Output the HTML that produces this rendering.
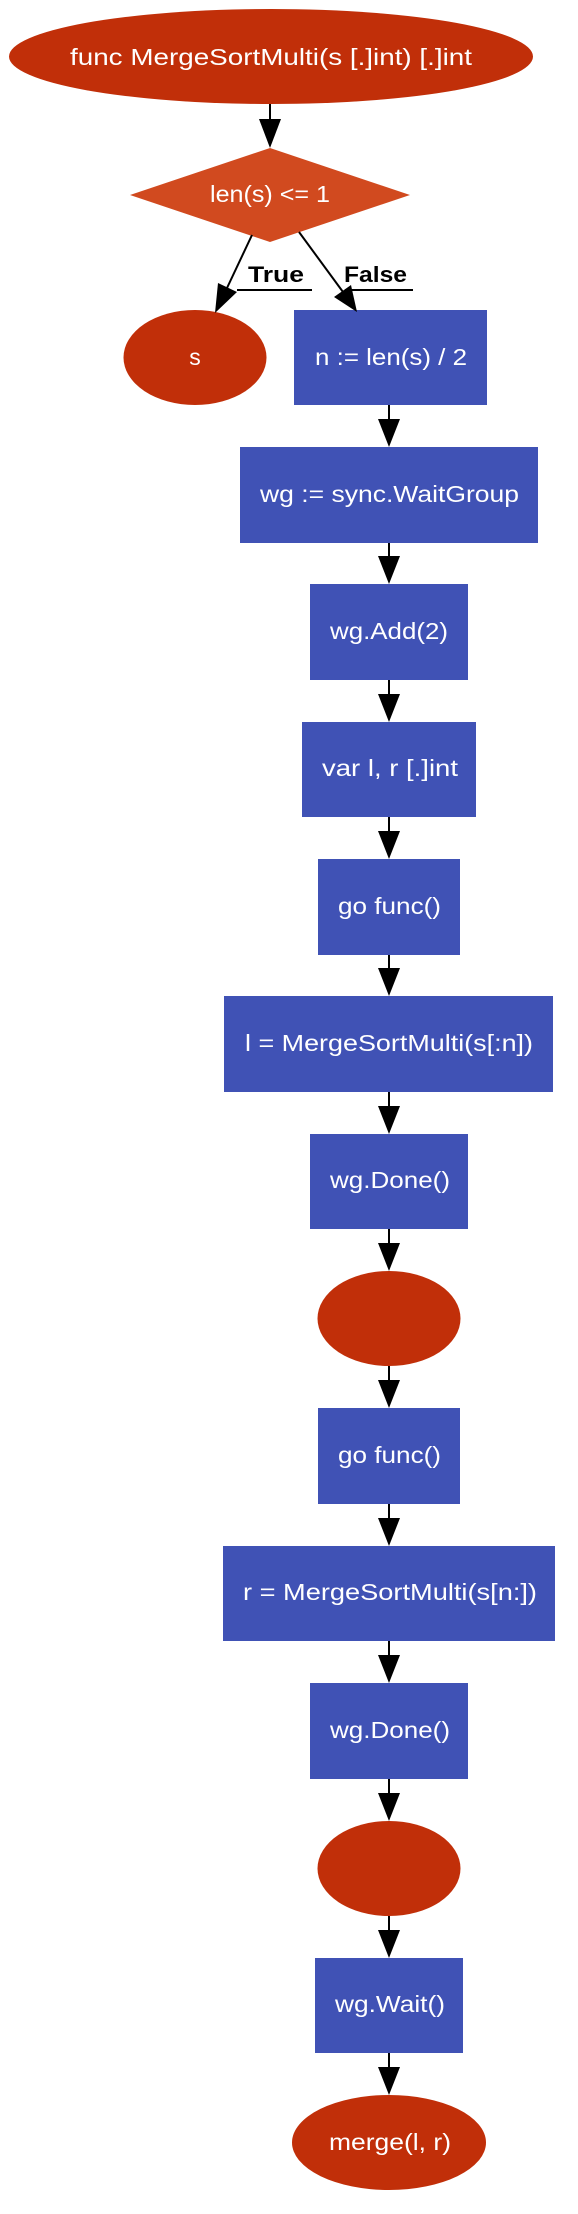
<!DOCTYPE html>
<html><head><meta charset="utf-8"><style>html,body{margin:0;padding:0;background:#fff}svg{display:block}</style></head>
<body>
<svg width="578" height="2214" viewBox="0 0 578 2214" xmlns="http://www.w3.org/2000/svg" font-family="'Liberation Sans', sans-serif">
<defs>
<marker id="a" markerWidth="10" markerHeight="10" viewBox="0 0 10 10" refX="10" refY="5" markerUnits="userSpaceOnUse" orient="auto" style="overflow:visible">
</marker>
</defs>
<g fill="#c12f09">
<ellipse cx="271" cy="56.5" rx="262" ry="47.5"/>
<ellipse cx="195" cy="357.5" rx="71.5" ry="47.5"/>
<ellipse cx="389" cy="1318.5" rx="71.5" ry="47.5"/>
<ellipse cx="389" cy="1868.5" rx="71.5" ry="47.5"/>
<ellipse cx="389" cy="2142.5" rx="97" ry="47.5"/>
</g>
<polygon points="130,195 270,148 410,195 270,242" fill="#d14a1f"/>
<g fill="#4052b5">
<rect x="294" y="310" width="193" height="95"/>
<rect x="240" y="447" width="298" height="96"/>
<rect x="310" y="584" width="158" height="96"/>
<rect x="302" y="722" width="174" height="95"/>
<rect x="318" y="859" width="142" height="96"/>
<rect x="224" y="996" width="329" height="96"/>
<rect x="310" y="1134" width="158" height="95"/>
<rect x="318" y="1408" width="142" height="96"/>
<rect x="223" y="1546" width="332" height="95"/>
<rect x="310" y="1683" width="158" height="96"/>
<rect x="315" y="1958" width="148" height="95"/>
</g>
<g stroke="#000" stroke-width="2" fill="none">
<line x1="270" y1="104" x2="270" y2="120"/>
<line x1="252" y1="235" x2="227" y2="288"/>
<line x1="299" y1="232" x2="343" y2="292"/>
<line x1="237" y1="290" x2="312" y2="290"/>
<line x1="345" y1="290" x2="413" y2="290"/>
<line x1="389" y1="405" x2="389" y2="420"/>
<line x1="389" y1="543" x2="389" y2="557"/>
<line x1="389" y1="680" x2="389" y2="695"/>
<line x1="389" y1="817" x2="389" y2="832"/>
<line x1="389" y1="955" x2="389" y2="969"/>
<line x1="389" y1="1092" x2="389" y2="1107"/>
<line x1="389" y1="1229" x2="389" y2="1244"/>
<line x1="389" y1="1366" x2="389" y2="1381"/>
<line x1="389" y1="1504" x2="389" y2="1519"/>
<line x1="389" y1="1641" x2="389" y2="1656"/>
<line x1="389" y1="1779" x2="389" y2="1794"/>
<line x1="389" y1="1916" x2="389" y2="1931"/>
<line x1="389" y1="2053" x2="389" y2="2068"/>
</g>
<g fill="#000">
<polygon points="259,119 281,119 270,148"/>
<polygon points="218,283 237,292 215,313"/>
<polygon points="334,297 351,285 357,312"/>
<polygon points="378,419 400,419 389,447"/>
<polygon points="378,556 400,556 389,584"/>
<polygon points="378,694 400,694 389,722"/>
<polygon points="378,831 400,831 389,859"/>
<polygon points="378,968 400,968 389,996"/>
<polygon points="378,1106 400,1106 389,1134"/>
<polygon points="378,1243 400,1243 389,1271"/>
<polygon points="378,1380 400,1380 389,1408"/>
<polygon points="378,1518 400,1518 389,1546"/>
<polygon points="378,1655 400,1655 389,1683"/>
<polygon points="378,1793 400,1793 389,1821"/>
<polygon points="378,1930 400,1930 389,1958"/>
<polygon points="378,2067 400,2067 389,2095"/>
</g>
<g fill="#fff" font-size="23">
<text x="70" y="65" textLength="402" lengthAdjust="spacingAndGlyphs">func MergeSortMulti(s [.]int) [.]int</text>
<text x="210" y="202" textLength="120" lengthAdjust="spacingAndGlyphs">len(s) &lt;= 1</text>
<text x="195" y="365" text-anchor="middle">s</text>
<text x="315" y="365" textLength="152" lengthAdjust="spacingAndGlyphs">n := len(s) / 2</text>
<text x="260" y="502" textLength="259" lengthAdjust="spacingAndGlyphs">wg := sync.WaitGroup</text>
<text x="330" y="639" textLength="118" lengthAdjust="spacingAndGlyphs">wg.Add(2)</text>
<text x="322" y="776" textLength="136" lengthAdjust="spacingAndGlyphs">var l, r [.]int</text>
<text x="338" y="914" textLength="103" lengthAdjust="spacingAndGlyphs">go func()</text>
<text x="245" y="1051" textLength="288" lengthAdjust="spacingAndGlyphs">l = MergeSortMulti(s[:n])</text>
<text x="330" y="1188" textLength="120" lengthAdjust="spacingAndGlyphs">wg.Done()</text>
<text x="338" y="1463" textLength="103" lengthAdjust="spacingAndGlyphs">go func()</text>
<text x="243" y="1600" textLength="294" lengthAdjust="spacingAndGlyphs">r = MergeSortMulti(s[n:])</text>
<text x="330" y="1738" textLength="120" lengthAdjust="spacingAndGlyphs">wg.Done()</text>
<text x="335" y="2012" textLength="110" lengthAdjust="spacingAndGlyphs">wg.Wait()</text>
<text x="329" y="2150" textLength="122" lengthAdjust="spacingAndGlyphs">merge(l, r)</text>
</g>
<g fill="#000" font-size="22" font-weight="bold">
<text x="248" y="282" textLength="56" lengthAdjust="spacingAndGlyphs">True</text>
<text x="344" y="282" textLength="63" lengthAdjust="spacingAndGlyphs">False</text>
</g>
</svg>
</body></html>
